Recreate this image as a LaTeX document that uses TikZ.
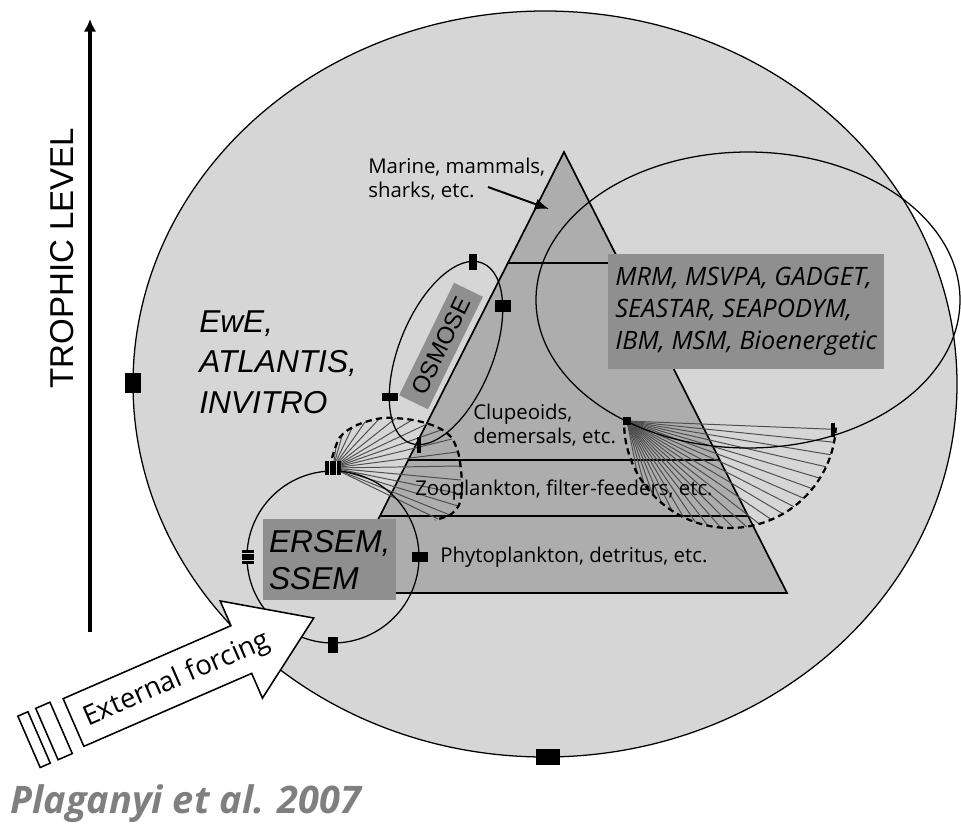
\documentclass[tikz,border=0pt]{standalone}
\usepackage{fontspec}
\setmainfont{Open Sans}
\newfontfamily\arialfont{Liberation Sans}
\usepackage{tikz}
\usetikzlibrary{
  positioning,
  calc,
  arrows.meta,
  arrows
}
\usepackage{xcolor}
\definecolor{seagray}{HTML}{D6D6D6}
\definecolor{pyrgray}{HTML}{ADADAD}
\definecolor{boxgray}{HTML}{8F8F8F}
\definecolor{fangray}{HTML}{4F4F4F}
\definecolor{citegray}{HTML}{7F7F7F}

\begin{document}
\begin{tikzpicture}[x=0.025cm,y=-0.025cm,>=latex',
    lbl/.style={inner sep=0pt,align=left,anchor=base west,font=\fontsize{14.5}{17}\selectfont},
    model/.style={inner sep=0pt,align=left,font=\arialfont\itshape\fontsize{22.5}{28.5}\selectfont},
    mbox/.style={fill=boxgray,inner sep=0pt},
    blk/.style 2 args={fill=black,inner sep=0pt,minimum width=#1,minimum height=#2},
    fan/.style={fangray,line width=0.7pt},
    fanedge/.style={black,line width=1.6pt,dash pattern=on 4.5pt off 3pt},
    ring/.style={black,line width=0.9pt}]
  \useasboundingbox (0,0) rectangle (961,829);

  % ecosystem
  \draw[ring,fill=seagray] (545,384) ellipse [x radius=412, y radius=373];

  % pyramid
  \coordinate (apex) at (564,152);
  \coordinate (bl) at (341,593);
  \coordinate (br) at (787,593);
  \draw[line width=1.2pt,fill=pyrgray] (apex) -- (br) -- (bl) -- cycle;
  \foreach \f in {0.252,0.698,0.825}
    \draw[line width=1.2pt] ($(apex)!\f!(bl)$) -- ($(apex)!\f!(br)$);

  % fans
  \coordinate (lfo) at (333,468);
  \coordinate (rfo) at (627,421);
  \coordinate (rfc) at (730,422);
  \foreach \p in {(336,447),(342,436),(352,428),(365,422),(380,418),(396,418),(412,420),(427,424),(441,430),(452,439),(457,452),(460,466),(461,480),(461,494),(458,506),(450,515),(438,519)}
    \draw[fan] (lfo) -- \p;
  \draw[fanedge] plot[smooth] coordinates {(332,458) (340,437) (357,425) (383,418) (413,420) (437,427) (451,437) (458,452) (461,470) (462,490) (459,505) (450,515) (435,520)};
  \foreach \t in {4,11,...,151}
    \draw[fan] (rfo) -- ($(rfc)+(\t:106)$);
  \draw[fanedge] ($(rfc)+(177:106)$) arc[start angle=177,end angle=3,radius=106];

  % model ranges
  \draw[ring] (748,300) ellipse [x radius=212, y radius=148];
  \draw[ring,rotate around={68:(446,353)}] (446,353) ellipse [x radius=97, y radius=47];
  \draw[ring] (333,557) circle [radius=86];

  \node[model,mbox,anchor=north west,minimum width=94.6pt,minimum height=57.6pt,font=\arialfont\itshape\fontsize{22.5}{26.3}\selectfont] (ersem) at (263,519) {ERSEM,\\SSEM};
  \node[mbox,anchor=north west,align=left,minimum width=196.3pt,minimum height=81.8pt,font=\itshape\fontsize{18}{22.8}\selectfont] (mrm) at (608,254) {MRM, MSVPA, GADGET,\\SEASTAR, SEAPODYM,\\IBM, MSM, Bioenergetic};
  \node[mbox,rotate=64,minimum width=89pt,minimum height=22.8pt,font=\arialfont\fontsize{17}{20}\selectfont] (osmose) at (441,346) {OSMOSE};

  % forcing
  \begin{scope}[shift={(73.5,722.5)},rotate=23.5]
    \draw[line width=1.1pt,fill=white] (0,-26) -- (183,-26) -- (183,-53) -- (262,0) -- (183,53) -- (183,26) -- (0,26) -- cycle;
    \draw[line width=1.1pt,fill=white] (-29,-28) rectangle (-13.5,28);
    \draw[line width=1.1pt,fill=white] (-48.5,-28) rectangle (-37.5,28);
    \node[rotate=23.5,font=\fontsize{19.5}{22}\selectfont] (forcing) at (112,2) {External forcing};
  \end{scope}

  % markers
  \node[blk={11.4pt}{14.2pt}] (seaW) at (133,383) {};
  \node[blk={16.4pt}{10.7pt}] (seaS) at (548,757) {};
  \node[blk={5pt}{12pt}] (osN) at (473,262) {};
  \node[blk={10.7pt}{9.2pt}] (osE) at (503,306) {};
  \node[blk={10.7pt}{5.7pt}] (osW) at (390,397) {};
  \node[blk={2.2pt}{10.7pt}] (osS) at (419,445) {};
  \node[blk={10.7pt}{10pt}] (erN) at (lfo) {};
  \node[blk={9.2pt}{10pt}] (erW) at (248,557) {};
  \node[blk={10.7pt}{7.8pt}] (erE) at (420,557) {};
  \node[blk={7pt}{11.4pt}] (erS) at (333,645) {};
  \node[blk={6pt}{6pt}] (rfoot) at (rfo) {};
  \node[blk={2.2pt}{10pt}] (rfend) at (833,430) {};
  \foreach \s in {-2.2pt,2.2pt} {
    \draw[seagray,line width=0.7pt] ([xshift=\s]erN.north) -- ([xshift=\s]erN.south);
    \draw[seagray,line width=0.7pt] ([yshift=\s]erW.west) -- ([yshift=\s]erW.east);
  }

  % labels
  \node[lbl] (marine) at (368,197) {Marine, mammals,\\sharks, etc.};
  \node[lbl,font=\fontsize{14.5}{16.4}\selectfont] (clupe) at (473,443) {Clupeoids,\\demersals, etc.};
  \node[lbl] (zoo) at (415,495) {Zooplankton, filter-feeders, etc.};
  \node[lbl] (phyto) at (440,562) {Phytoplankton, detritus, etc.};
  \node[model,anchor=base west] (ewe) at (199,413) {EwE,\\ATLANTIS,\\INVITRO};
  \coordinate (mtail) at (488,187);
  \coordinate (mtip) at (549,209);
  \draw[-{Latex[length=10pt,width=8pt]},line width=1.4pt] (mtail) -- (mtip);

  \node[rotate=90,font=\arialfont\fontsize{23.5}{26}\selectfont] (trophic) at (62,258) {TROPHIC LEVEL};
  \coordinate (tlow) at (90,632);
  \coordinate (thigh) at (90,19);
  \draw[-{Latex[length=9pt,width=9pt]},line width=2.2pt] (tlow) -- (thigh);

  \node[anchor=base west,inner sep=0pt,text=citegray,font=\bfseries\itshape\fontsize{27}{30}\selectfont] (cite) at (10,813) {Plaganyi et al. 2007};
\end{tikzpicture}
\end{document}
